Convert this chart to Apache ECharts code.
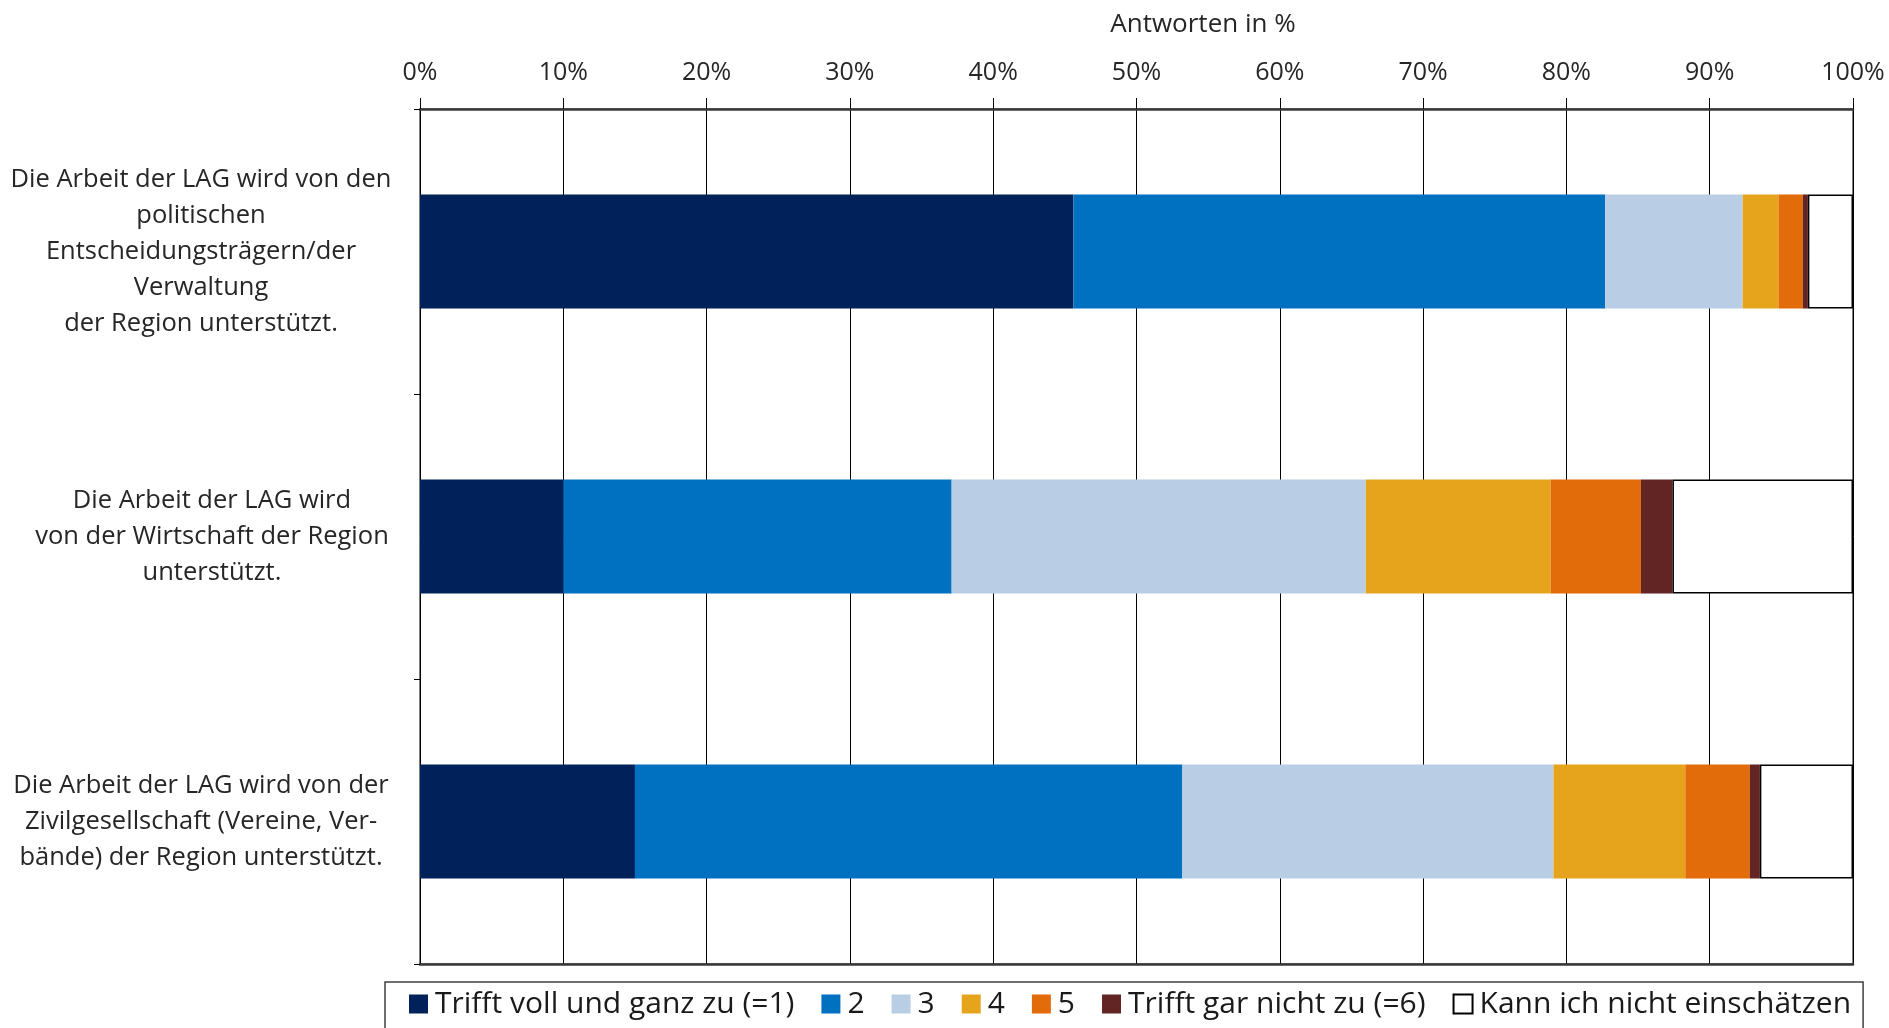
<!DOCTYPE html>
<html lang="de" style="height: 100%">
<head>
  <meta charset="utf-8">
</head>
<body style="height: 1028px; margin: 0; width: 1889px; background: #fff;">
  <div id="container" style="height: 100%"></div>
  <script type="text/javascript" src="https://cdn.jsdelivr.net/npm/echarts@6/dist/echarts.min.js"></script>
  <script type="text/javascript">
    // Aussagen (y-Achse, von oben nach unten)
    var categories = [
      'Die Arbeit der LAG wird von den\npolitischen\nEntscheidungsträgern/der\nVerwaltung\nder Region unterstützt.',
      'Die Arbeit der LAG wird\nvon der Wirtschaft der Region\nunterstützt.',
      'Die Arbeit der LAG wird von der\nZivilgesellschaft (Vereine, Ver-\nbände) der Region unterstützt.'
    ];
    var xTicks = [0, 10, 20, 30, 40, 50, 60, 70, 80, 90, 100];

    // Antworten in %
    var names = ['Trifft voll und ganz zu (=1)', '2', '3', '4', '5', 'Trifft gar nicht zu (=6)', 'Kann ich nicht einschätzen'];
    var v1 = [45.6, 10.0, 15.0];
    var v2 = [37.1, 27.1, 38.2];
    var v3 = [9.6, 28.9, 25.9];
    var v4 = [2.5, 12.9, 9.2];
    var v5 = [1.7, 6.3, 4.5];
    var v6 = [0.35, 2.2, 0.7];
    var vk = [3.15, 12.6, 6.5];
    var values = [v1, v2, v3, v4, v5, v6, vk];

    var colors = ['#00215A', '#0070C0', '#B9CDE5', '#E5A41B', '#E26B0A', '#632523', '#FFFFFF'];
    var font = '"Open Sans", Lato, sans-serif';

    var dom = document.getElementById('container');
    var myChart = echarts.init(dom, null, { renderer: 'canvas' });

    var series = values.map(function (data, i) {
      var last = i === values.length - 1;
      return {
        name: names[i],
        type: 'bar',
        stack: 'total',
        barWidth: '40%',
        xAxisIndex: 0,
        data: data,
        itemStyle: last ? {
          color: colors[i],
          borderColor: '#000',
          borderWidth: 1.5
        } : { color: colors[i] },
        emphasis: { disabled: true }
      };
    });

    var labelStyle = { fontFamily: font, fontSize: 25.5, lineHeight: 36, color: '#262626', align: 'center' };

    var option = {
      animation: false,
      backgroundColor: '#fff',
      title: {
        text: 'Antworten in %',
        left: 1198,
        top: 7,
        textAlign: 'center',
        textStyle: { fontFamily: font, fontSize: 26, fontWeight: 'normal', color: '#262626' }
      },
      legend: {
        left: 385,
        top: 982,
        padding: [7, 12, 14, 24],
        borderColor: '#404040',
        borderWidth: 1.5,
        itemWidth: 19,
        itemHeight: 19,
        itemGap: 27,
        icon: 'rect',
        textStyle: { fontFamily: font, fontSize: 30, color: '#1a1a1a', padding: [0, 0, 0, 2] },
        data: names
      },
      grid: {
        left: 420,
        right: 36,
        top: 109,
        bottom: 64,
        show: true,
        borderColor: '#000',
        borderWidth: 1
      },
      xAxis: [{
        type: 'value',
        position: 'top',
        min: xTicks[0],
        max: xTicks[xTicks.length - 1],
        interval: 10,
        axisLine: { show: true, lineStyle: { color: '#3a3a3a', width: 2.5 } },
        axisTick: { show: true, length: 11, lineStyle: { color: '#000' } },
        splitLine: { show: true, lineStyle: { color: '#000', width: 1 } },
        axisLabel: {
          margin: 24,
          fontFamily: font,
          fontSize: 25,
          color: '#262626',
          formatter: '{value}%'
        }
      }, {
        type: 'value',
        position: 'bottom',
        min: xTicks[0],
        max: xTicks[xTicks.length - 1],
        axisLine: { show: true, lineStyle: { color: '#3a3a3a', width: 2.5 } },
        axisTick: { show: false },
        splitLine: { show: false },
        axisLabel: { show: false }
      }],
      yAxis: {
        type: 'category',
        inverse: true,
        data: categories,
        axisLine: { show: true, lineStyle: { color: '#000', width: 1 } },
        axisTick: { show: true, length: 6, lineStyle: { color: '#000' } },
        axisLabel: {
          align: 'center',
          margin: 219,
          formatter: function (value, index) {
            return '{l' + index + '|' + value + '}';
          },
          rich: {
            l0: labelStyle,
            l1: Object.assign({}, labelStyle, { padding: [0, 0, 0, 22] }),
            l2: labelStyle
          }
        }
      },
      series: series
    };

    myChart.setOption(option);
  </script>
</body>
</html>
